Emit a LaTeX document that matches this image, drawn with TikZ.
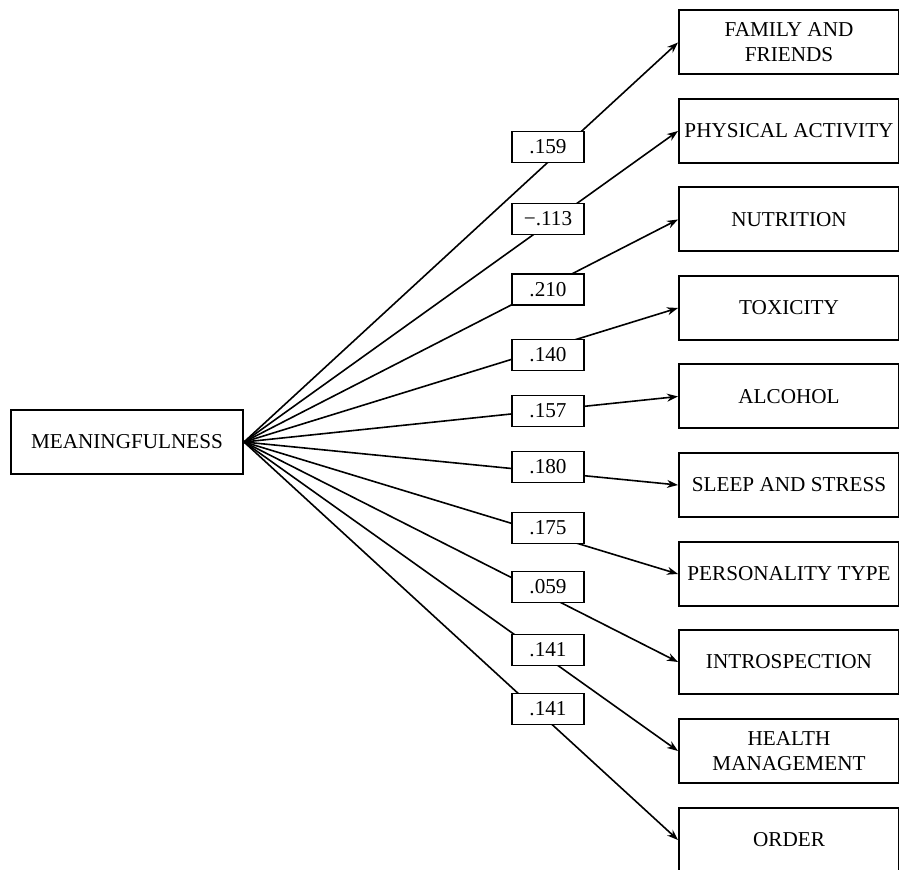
\documentclass[tikz,border=0pt]{standalone}
\usepackage{fontspec}
\setmainfont{Liberation Serif}
\usetikzlibrary{arrows.meta}
\begin{document}
\begin{tikzpicture}[x=0.5pt,y=-0.5pt,
  font=\fontsize{10.6pt}{12.5pt}\selectfont,
  srcbox/.style={draw,line width=1pt,minimum width=116pt,minimum height=32pt,inner sep=0pt,align=center},
  tgtbox/.style={draw,line width=1pt,minimum width=110pt,minimum height=32pt,inner sep=0pt,align=center,anchor=west},
  coefbox/.style={draw,line width=0.9pt,fill=white,minimum width=36pt,minimum height=15.5pt,inner sep=0pt},
  conn/.style={line width=0.8pt,-{Stealth[length=5.5pt,width=4pt]}}]
\useasboundingbox (0,0) rectangle (899,870);
\node[srcbox] (m) at (127,442) {MEANINGFULNESS};
\node[tgtbox] (t1) at (678,42.5) {FAMILY AND\\FRIENDS};
\node[tgtbox] (t2) at (678,131) {PHYSICAL ACTIVITY};
\node[tgtbox] (t3) at (678,219.5) {NUTRITION};
\node[tgtbox] (t4) at (678,308) {TOXICITY};
\node[tgtbox] (t5) at (678,396.5) {ALCOHOL};
\node[tgtbox] (t6) at (678,485) {SLEEP AND STRESS};
\node[tgtbox] (t7) at (678,574) {PERSONALITY TYPE};
\node[tgtbox] (t8) at (678,662) {INTROSPECTION};
\node[tgtbox] (t9) at (678,751) {HEALTH\\MANAGEMENT};
\node[tgtbox] (t10) at (678,840) {ORDER};
\foreach \i in {1,...,10} {\draw[conn] (m.east) -- (t\i.west);}
\node[coefbox] (c1) at (548,147) {.159};
\node[coefbox] (c2) at (548,219) {−.113};
\node[coefbox] (c3) at (548,289.5) {.210};
\node[coefbox] (c4) at (548,355) {.140};
\node[coefbox] (c5) at (548,411) {.157};
\node[coefbox] (c6) at (548,467) {.180};
\node[coefbox] (c7) at (548,528) {.175};
\node[coefbox] (c8) at (548,587) {.059};
\node[coefbox] (c9) at (548,650) {.141};
\node[coefbox] (c10) at (548,709) {.141};
\end{tikzpicture}
\end{document}
